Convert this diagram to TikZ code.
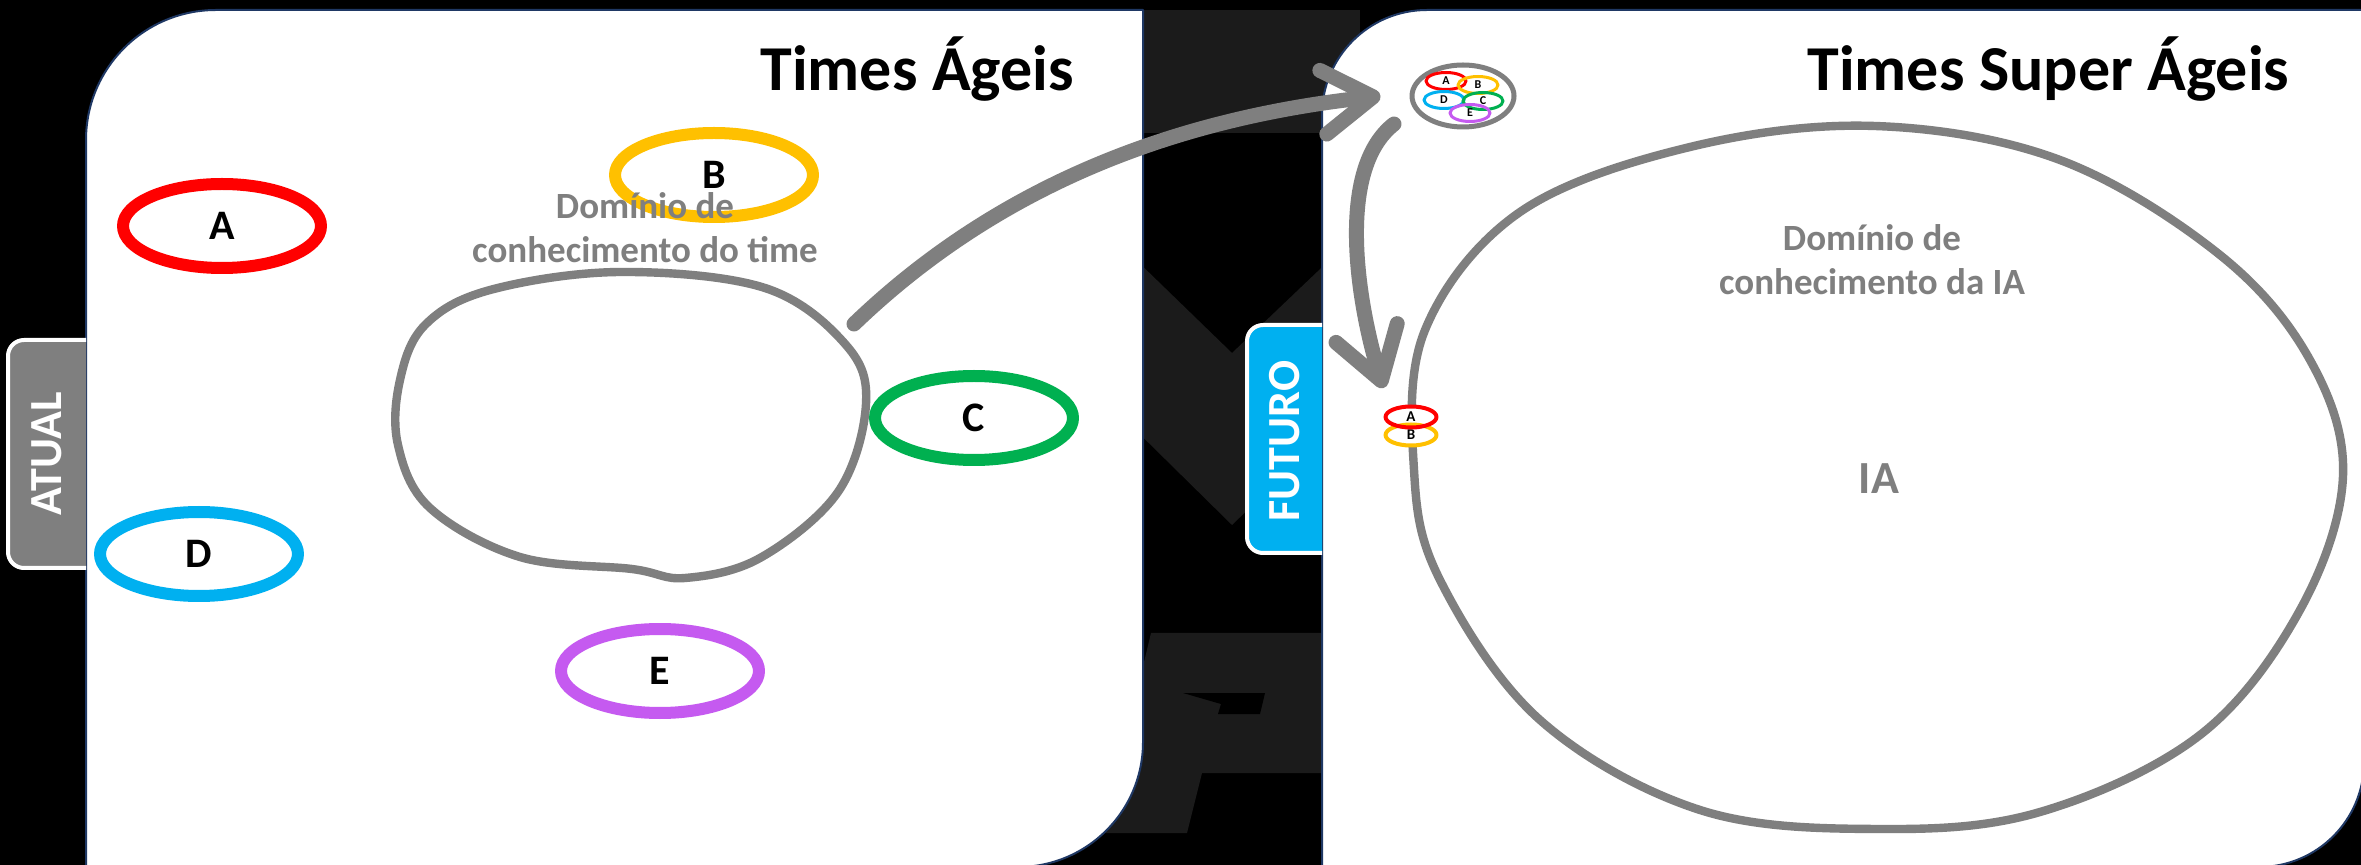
\documentclass[tikz,border=0pt]{standalone}
\usepackage{fontspec}
\setmainfont{Carlito}
\usetikzlibrary{shapes.geometric,arrows.meta}

\definecolor{cinza}{HTML}{7F7F7F}
\definecolor{marca}{HTML}{1B1B1B}
\definecolor{borda}{HTML}{1F3864}
\definecolor{azul}{HTML}{00B0F0}
\definecolor{vermelho}{HTML}{FF0000}
\definecolor{amarelo}{HTML}{FFC000}
\definecolor{verde}{HTML}{00B050}
\definecolor{roxo}{HTML}{C55AF0}

\tikzset{
every picture/.style={
line join=round
}}

\begin{document}
\begin{tikzpicture}[x=0.5pt, y=-0.5pt,
painel/.style = {fill=white, draw=borda, line width=1pt},
aba/.style = {draw=white, line width=2pt, rounded corners=8pt},
abatexto/.style = {text=white, rotate=90, font=\bfseries\fontsize{23}{27}\selectfont},
titulo/.style = {anchor=base west, inner sep=0pt, font=\bfseries\fontsize{32}{38}\selectfont},
dominio/.style = {text=cinza, align=center, inner sep=0pt, font=\bfseries\fontsize{18.5}{22}\selectfont},
mancha/.style = {draw=cinza, line width=4.2pt},
anel/.style = {ellipse, draw=#1, line width=6pt, inner sep=0pt,
  minimum width=99pt, minimum height=42pt, font=\bfseries\fontsize{21}{25}\selectfont},
mini/.style = {ellipse, draw=#1, line width=1.5pt, inner sep=0pt,
  minimum width=20pt, minimum height=8.5pt, font=\bfseries\fontsize{6}{7}\selectfont},
duo/.style = {ellipse, draw=#1, line width=2pt, inner sep=0pt,
  minimum width=25.5pt, minimum height=10.5pt, font=\bfseries\fontsize{7.5}{9}\selectfont},
seta/.style = {draw=cinza, line width=7.5pt, line cap=round,
  -{Straight Barb[length=25pt, width=32pt, line width=7.5pt, round]}}]

\clip (0,0) rectangle (2361,865);
\fill[black] (0,0) rectangle (2361,865);

% marca d'agua entre os paineis
\fill[marca] (1100,10) rectangle (1360,133);
\fill[marca] (1100,225) -- (1232,353) -- (1360,231) -- (1360,401) -- (1232,525) -- (1100,395) -- cycle;
\fill[marca] (1151,633) -- (1360,633) -- (1360,773) -- (1202,773) -- (1187,833) -- (1103,833) -- cycle;
\fill[black] (1183,693) -- (1265,693) -- (1260,714) -- (1218,714) -- (1221,704) -- cycle;

% paineis
\draw[painel] (86,880) -- (86,140) arc[start angle=180, end angle=90, radius=65pt]
  -- (1143,10) -- (1143,742) arc[start angle=0, end angle=-90, radius=62.5pt] -- (86,867) -- cycle;
\draw[painel] (1322,880) -- (1322,115) arc[start angle=180, end angle=90, radius=52.5pt]
  -- (2364,10) -- (2364,762) arc[start angle=0, end angle=-90, radius=52.5pt] -- (1322,867) -- cycle;

% abas
\draw[aba, fill=cinza] (86,340) -- (8,340) -- (8,568) -- (86,568);
\node[abatexto] (atual) at (47,454) {ATUAL};
\draw[aba, fill=azul] (1322,325) -- (1247,325) -- (1247,553) -- (1322,553);
\node[abatexto] (futuro) at (1285,441) {FUTURO};

\node[titulo] (t1) at (760,91) {Times Ágeis};
\node[titulo] (t2) at (1807,91) {Times Super Ágeis};

% times ageis
\draw[mancha] plot[smooth cycle, tension=0.6] coordinates {(400,380) (425,325) (490,290)
  (620,272) (765,288) (846,345) (866,404) (838,492) (760,558) (685,578) (632,569)
  (520,557) (430,508) (398,445)};

\node[anel=vermelho] (a) at (222,226) {A};
\node[anel=amarelo] (b) at (714,175) {B};
\node[anel=verde] (c) at (974,418) {C};
\node[anel=azul] (d) at (199,554) {D};
\node[anel=roxo] (e) at (660,671) {E};

\node[dominio] (dt) at (645,228) {Domínio de\\conhecimento do time};

% times super ageis
\draw[mancha] plot[smooth cycle, tension=0.6] coordinates {(1875,126) (2060,160)
  (2220,255) (2310,360) (2343,476) (2300,610) (2200,735) (2040,812) (1879,829)
  (1700,810) (1540,720) (1440,580) (1414,470) (1425,330) (1520,212) (1690,147)};

\node[dominio] (di) at (1872,260) {Domínio de\\conhecimento da IA};
\node[text=cinza, font=\bfseries\fontsize{23}{27}\selectfont] (ia) at (1879,479) {IA};

\node[ellipse, draw=cinza, line width=2.5pt, minimum width=51pt, minimum height=31pt] (grupo) at (1463,96) {};
\node[mini=vermelho] (ga) at (1446,81) {A};
\node[mini=amarelo] (gb) at (1478,85) {B};
\node[mini=azul] (gd) at (1444,100) {D};
\node[mini=verde] (gc) at (1483,101) {C};
\node[mini=roxo] (ge) at (1470,113) {E};

\fill[white] (1411,435) ellipse [x radius=12.75pt, y radius=5.25pt];
\fill[white] (1411,417) ellipse [x radius=12.75pt, y radius=5.25pt];
\node[duo=amarelo] (fb) at (1411,435) {B};
\node[duo=vermelho] (fa) at (1411,417) {A};

% setas
\coordinate (saida) at (854,324);
\coordinate (partida) at (1394,124);
\draw[seta] (saida) .. controls (984,199) and (1152,121) .. ([xshift=-14.5pt]grupo.west);
\draw[seta] (partida) .. controls (1335,170) and (1358,305) .. ([yshift=14.5pt]fa.west);
\end{tikzpicture}
\end{document}
